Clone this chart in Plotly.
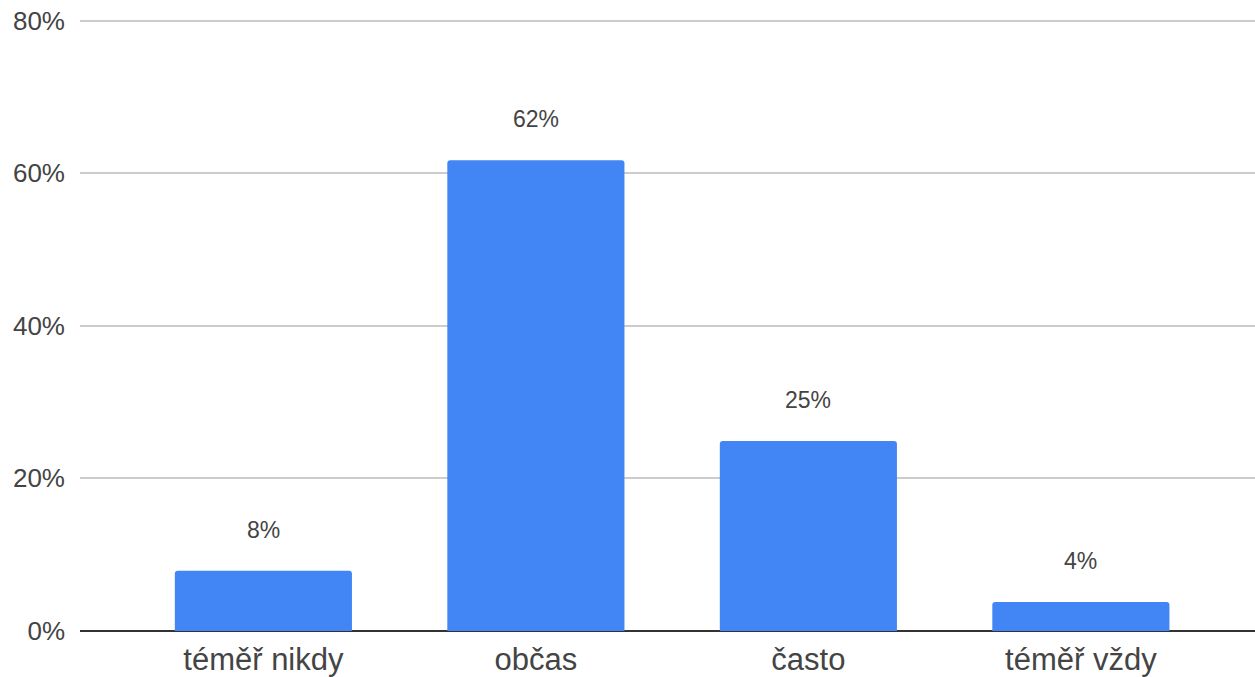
import plotly.graph_objects as go

categories = ["téměř nikdy", "občas", "často", "téměř vždy"]
values = [7.9, 61.7, 24.9, 3.8]
y_ticks = [0, 20, 40, 60, 80]
y_tick_labels = ["0%", "20%", "40%", "60%", "80%"]

fig = go.Figure()
fig.add_trace(go.Bar(
    x=categories, y=values,
    marker=dict(color="#4285F4", cornerradius=3, line=dict(width=0)),
    width=0.65, hoverinfo="skip",
))
for c, v in zip(categories, values):
    fig.add_annotation(x=c, y=v, text=f"{round(v)}%", showarrow=False,
                       yanchor="middle", yshift=41,
                       font=dict(family="Liberation Sans, Arial", size=23, color="#444444"))

fig.update_layout(
    width=1255, height=677,
    margin=dict(l=80, r=0, t=19, b=46),
    plot_bgcolor="white", paper_bgcolor="white",
    showlegend=False,
    font=dict(family="Liberation Sans, Arial", color="#444444"),
    xaxis=dict(range=[-0.673, 3.639], showgrid=False, showline=False, ticks="",
               automargin=False, ticklabelstandoff=7,
               tickfont=dict(size=31, color="#444444"), fixedrange=True),
    yaxis=dict(range=[0, 80.2], tickvals=y_ticks, ticktext=y_tick_labels,
               showgrid=True, gridcolor="#cccccc", gridwidth=1.5,
               zeroline=True, zerolinecolor="#333333", zerolinewidth=2,
               showline=False, ticks="", ticklabelstandoff=14, automargin=False,
               ticklabeloverflow="allow",
               tickfont=dict(size=26, color="#444444"), fixedrange=True),
)
fig.write_html("out.html",
               config={"displayModeBar": False},
               post_script="document.body.style.margin='0';document.body.style.overflow='hidden';")
